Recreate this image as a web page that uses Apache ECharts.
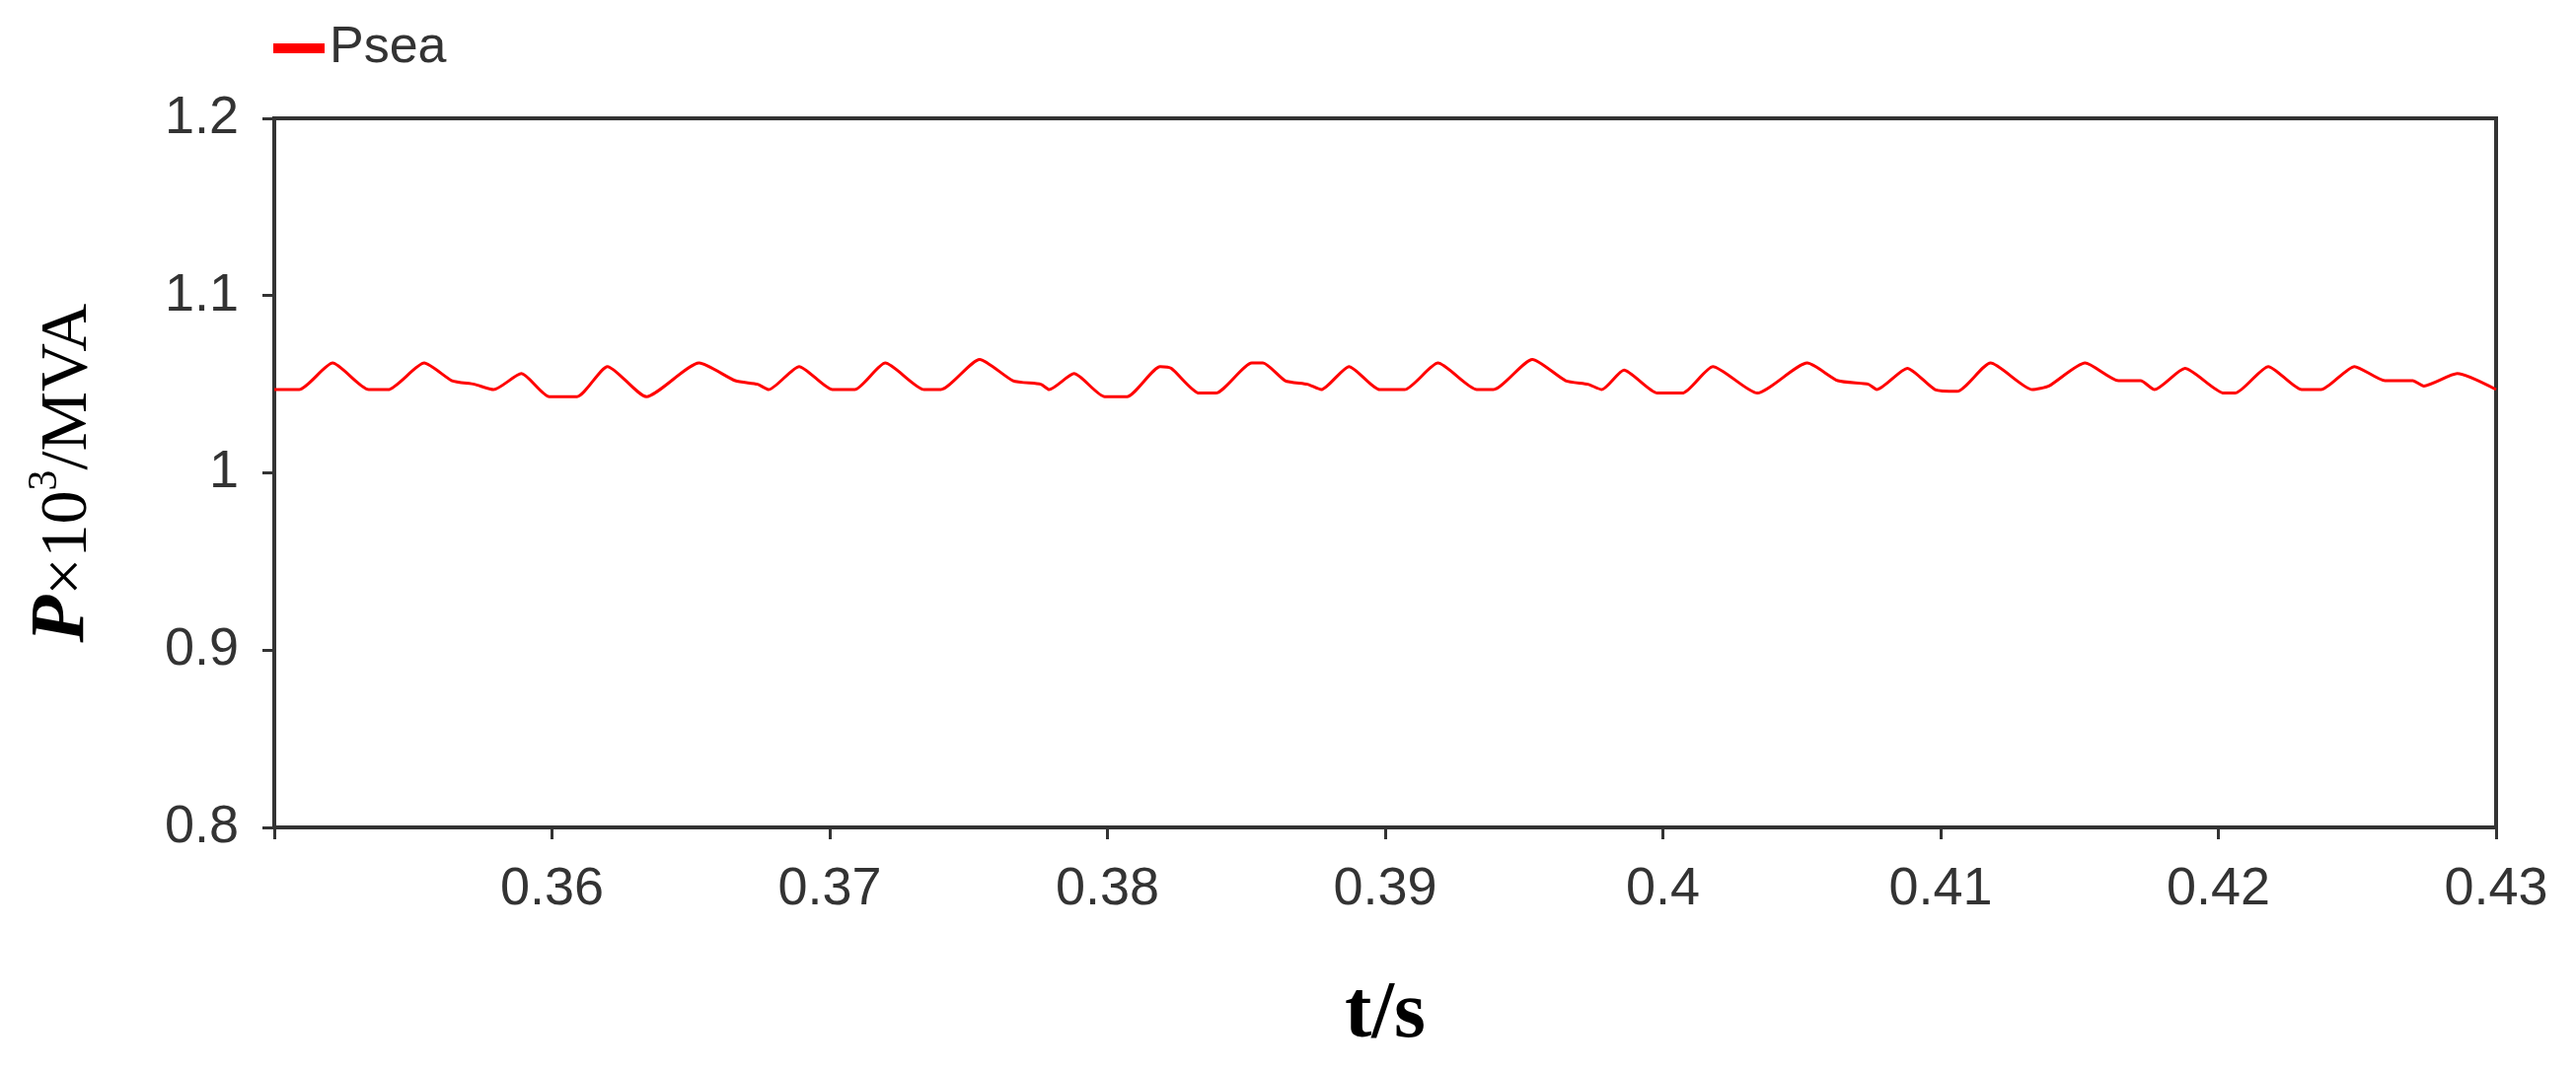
<!DOCTYPE html>
<html>
<head>
<meta charset="utf-8">
<script src="https://cdn.jsdelivr.net/npm/echarts@6/dist/echarts.min.js"></script>
<style>
  html, body { margin: 0; padding: 0; background: #fff; }
  #chart { width: 2611px; height: 1087px; }
</style>
</head>
<body>
<div id="chart"></div>
<script>
// time (s) and Psea (x10^3 MVA)
const times = [
  0.3500, 0.3509, 0.3521, 0.3534, 0.3541, 0.3554, 0.3564, 0.3572, 0.3579, 0.3589,
  0.3599, 0.3609, 0.3620, 0.3634, 0.3653, 0.3666, 0.3674, 0.3678, 0.3689, 0.3701,
  0.3709, 0.3720, 0.3734, 0.3740, 0.3754, 0.3766, 0.3776, 0.3779, 0.3788, 0.3799,
  0.3807, 0.3819, 0.3823, 0.3833, 0.3839, 0.3852, 0.3856, 0.3864, 0.3872, 0.3877,
  0.3887, 0.3898, 0.3907, 0.3919, 0.3933, 0.3939, 0.3953, 0.3965, 0.3973, 0.3978,
  0.3986, 0.3998, 0.4007, 0.4018, 0.4034, 0.4052, 0.4063, 0.4074, 0.4077, 0.4088,
  0.4098, 0.4106, 0.4118, 0.4133, 0.4139, 0.4152, 0.4164, 0.4172, 0.4177, 0.4188,
  0.4202, 0.4206, 0.4218, 0.4230, 0.4237, 0.4249, 0.4260, 0.4270, 0.4274, 0.4286,
  0.4300
];
const psea = [
  1.047, 1.047, 1.062, 1.047, 1.047, 1.062, 1.052, 1.050, 1.047, 1.056,
  1.043, 1.043, 1.060, 1.043, 1.062, 1.052, 1.050, 1.047, 1.060, 1.047,
  1.047, 1.062, 1.047, 1.047, 1.064, 1.052, 1.050, 1.047, 1.056, 1.043,
  1.043, 1.060, 1.059, 1.045, 1.045, 1.062, 1.062, 1.052, 1.050, 1.047,
  1.060, 1.047, 1.047, 1.062, 1.047, 1.047, 1.064, 1.052, 1.050, 1.047,
  1.058, 1.045, 1.045, 1.060, 1.045, 1.062, 1.052, 1.050, 1.047, 1.059,
  1.047, 1.046, 1.062, 1.047, 1.049, 1.062, 1.052, 1.052, 1.047, 1.059,
  1.045, 1.045, 1.060, 1.047, 1.047, 1.060, 1.052, 1.052, 1.049, 1.056,
  1.047
];
const yTicks = [0.8, 0.9, 1, 1.1, 1.2];
const xTickStep = 0.01;

const chart = echarts.init(document.getElementById('chart'));

const axisCommon = {
  axisLine: { show: true, lineStyle: { color: '#333', width: 4 } },
  axisTick: { show: true, length: 12, lineStyle: { color: '#333', width: 3 } },
  splitLine: { show: false },
  axisLabel: { color: '#333', fontFamily: 'Liberation Sans', fontSize: 54 }
};

chart.setOption({
  backgroundColor: '#fff',
  animation: false,
  grid: {
    left: 278, right: 81, top: 120, bottom: 248,
    show: true, borderColor: '#333', borderWidth: 4
  },
  legend: {
    left: 272, top: 18,
    itemWidth: 52, itemHeight: 10, itemGap: 4,
    textStyle: { color: '#333', fontFamily: 'Liberation Sans', fontSize: 52 },
    data: [{ name: 'Psea', icon: 'rect' }]
  },
  xAxis: Object.assign({}, axisCommon, {
    type: 'value', min: 0.35, max: 0.43, interval: xTickStep,
    name: 't/s', nameLocation: 'middle', nameGap: 150,
    nameTextStyle: { fontFamily: 'Liberation Serif', fontWeight: 'bold', fontSize: 82, color: '#000' },
    axisLabel: Object.assign({}, axisCommon.axisLabel, {
      margin: 36,
      formatter: v => (Math.abs(v - 0.35) < 1e-9 ? '' : String(+v.toFixed(2)))
    })
  }),
  yAxis: Object.assign({}, axisCommon, {
    type: 'value', min: yTicks[0], max: yTicks[yTicks.length - 1], interval: 0.1,
    name: '{p|P}{s|×10}{sup|3}{s|/MVA}', nameLocation: 'middle', nameGap: 175,
    nameTextStyle: {
      rich: {
        p: { fontFamily: 'Liberation Serif', fontWeight: 'bold', fontStyle: 'italic', fontSize: 78, color: '#000' },
        s: { fontFamily: 'Liberation Serif', fontSize: 68, color: '#000', verticalAlign: 'bottom' },
        sup: { fontFamily: 'Liberation Serif', fontSize: 42, color: '#000', verticalAlign: 'top', padding: [0, 0, 34, 0] }
      }
    },
    axisLabel: Object.assign({}, axisCommon.axisLabel, {
      margin: 36,
      formatter: v => String(+v.toFixed(1))
    })
  }),
  series: [{
    name: 'Psea',
    type: 'line',
    showSymbol: false,
    color: '#ff0000',
    smooth: 0.2,
    lineStyle: { color: '#ff0000', width: 3 },
    data: times.map((t, i) => [t, psea[i]])
  }]
});
</script>
</body>
</html>
